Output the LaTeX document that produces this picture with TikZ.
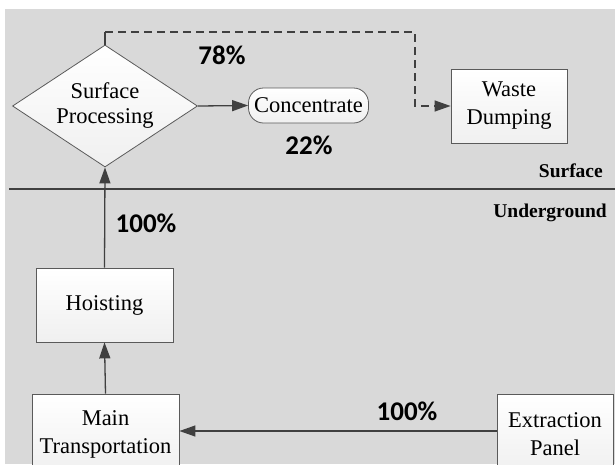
\documentclass[tikz,border=0pt]{standalone}
\usepackage{fontspec}
\setmainfont{Liberation Serif}
\newfontfamily\serfont{Liberation Serif}
\newfontfamily\pctfont{Carlito}
\usetikzlibrary{arrows.meta,shapes.geometric}
\definecolor{bg}{HTML}{D9D9D9}
\definecolor{ln}{HTML}{404040}
\definecolor{bd}{HTML}{5A5A5A}
\begin{document}
\begin{tikzpicture}[x=1pt,y=-1pt,
  lbl/.style={font=\serfont\fontsize{22.5}{28}\selectfont, align=center, text=black},
  boxnode/.style={lbl, draw=bd, line width=0.8pt, top color=white, bottom color=gray!12, inner sep=0pt},
  pct/.style={font=\pctfont\bfseries\fontsize{27}{30}\selectfont, text=black, inner sep=0pt},
  zone/.style={font=\serfont\bfseries\fontsize{19.5}{22}\selectfont, text=black, inner sep=0pt},
  conn/.style={draw=ln, line width=1.3pt},
  arr/.style={conn, -{Triangle[length=16pt,width=11pt]}},
  dasharr/.style={arr, dash pattern=on 8pt off 5pt}
]
\useasboundingbox (0,0) rectangle (615,464);
\clip (0,0) rectangle (615,464);
\fill[bg] (5,9) rectangle (615,464);
% dividing line
\draw[ln, line width=2pt] (9,189) -- (615,189);

% nodes
\node[boxnode, shape=diamond, minimum width=185pt, minimum height=122pt] (dia) at (105,106) {};
\node[lbl, font=\serfont\fontsize{22.5}{25}\selectfont, inner sep=0pt] (diatext) at (dia.center) {Surface\\Processing};
\node[boxnode, rounded corners=15pt, minimum width=120pt, minimum height=35pt] (conc) at (308.5,105.5) {Concentrate};
\node[boxnode, minimum width=116pt, minimum height=74pt] (waste) at (509,106) {Waste\\Dumping};
\node[boxnode, minimum width=137pt, minimum height=74pt] (hoist) at (104.5,305) {Hoisting};
\node[boxnode, minimum width=147pt, minimum height=80pt] (main) at (105.5,434) {Main\\Transportation};
\node[boxnode, minimum width=116pt, minimum height=80pt] (ext) at (555,434) {Extraction\\Panel};

% connectors
\coordinate (bend) at (415,32);
\coordinate (up) at (dia.north |- bend);
\draw[arr] (dia.east) -- (conc.west);
\draw[conn] (dia.north) -- (up);
\draw[dasharr] (up) -- (bend) |- (waste.west);
\draw[arr] (hoist.north) -- (dia.south);
\draw[arr] (main.north) -- (hoist.south);
\draw[arr] ([yshift=3pt]ext.west) -- ([yshift=3pt]main.east);

% labels
\node[pct] (p78) at (222,55) {78\%};
\node[pct] (p22) at (309,145) {22\%};
\node[pct] (p100a) at (146,223) {100\%};
\node[pct] (p100b) at (407,411) {100\%};
\node[zone, anchor=base east] (surf) at (603,177) {Surface};
\node[zone, anchor=base east] (under) at (607,217) {Underground};
\end{tikzpicture}
\end{document}
